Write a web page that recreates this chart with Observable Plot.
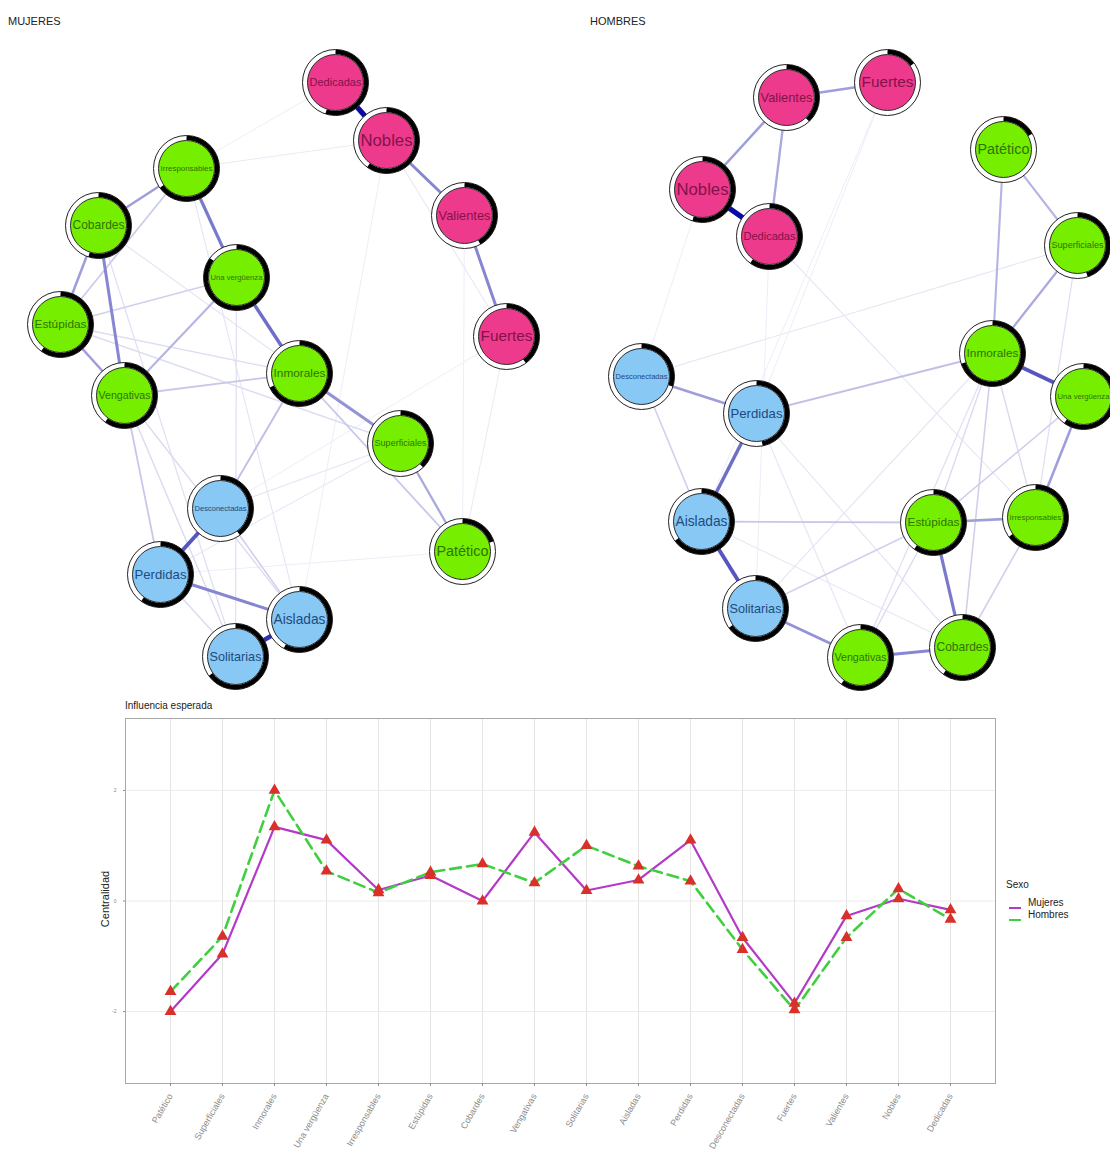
<!DOCTYPE html>
<html><head><meta charset="utf-8">
<script src="https://cdn.jsdelivr.net/npm/d3@7"></script>
<script src="https://cdn.jsdelivr.net/npm/@observablehq/plot@0.6"></script>
<style>
body{margin:0;background:#fff;font-family:"Liberation Sans",Arial,sans-serif;}
#wrap{position:relative;width:1110px;height:1157px;overflow:hidden;background:#fff;}
.abs{position:absolute;}
</style></head><body><div id="wrap"></div>
<script>
// ---------- DATA ----------
const categories = ["Patético","Superficiales","Inmorales","Una vergüenza","Irresponsables","Estúpidas","Cobardes","Vengativas","Solitarias","Aisladas","Perdidas","Desconectadas","Fuertes","Valientes","Nobles","Dedicadas"];
const nodeGroup = ["g","g","g","g","g","g","g","g","b","b","b","b","p","p","p","p"];

const centralidadMujeres = [-2.0,-0.96,1.34,1.10,0.20,0.46,0.0,1.24,0.19,0.38,1.10,-0.66,-1.85,-0.27,0.04,-0.16];
const centralidadHombres = [-1.64,-0.64,2.0,0.54,0.15,0.52,0.67,0.33,1.0,0.63,0.36,-0.88,-1.97,-0.66,0.22,-0.33];
const yTicks = [-2,0,2];
const sexos = ["Mujeres","Hombres"];

// network layouts (layout space of each panel)
const mujeresX = [462,400,299,236,186,60,98,124,235,299,160,220,506,464,386,335];
const mujeresY = [551,443,373,277,168,324,225,395,656,619,574,508,336,215,140,82];
const hombresX = [448,522,437,528,480,378,407,305,200,146,201,86,332,231,147,214];
const hombresY = [149,245,353,396,517,522,647,657,608,521,413,376,82,97,189,236];

// predictability (pie)
const mujeresPie = [0.2,0.38,0.68,0.85,0.65,0.6,0.55,0.6,0.65,0.58,0.6,0.4,0.4,0.42,0.6,0.55];
const hombresPie = [0.17,0.45,0.7,0.6,0.65,0.6,0.6,0.6,0.65,0.65,0.47,0.3,0.15,0.38,0.55,0.6];

const mujeresEdges = [
 ["Dedicadas","Nobles",1.0],["Aisladas","Solitarias",0.85],["Desconectadas","Perdidas",0.7],
 ["Una vergüenza","Inmorales",0.6],["Irresponsables","Una vergüenza",0.55],["Nobles","Valientes",0.5],
 ["Valientes","Fuertes",0.5],["Perdidas","Aisladas",0.5],["Cobardes","Vengativas",0.5],
 ["Inmorales","Superficiales",0.45],["Cobardes","Irresponsables",0.4],["Cobardes","Estúpidas",0.4],
 ["Estúpidas","Vengativas",0.4],["Superficiales","Patético",0.35],["Vengativas","Una vergüenza",0.3],
 ["Inmorales","Desconectadas",0.25],["Vengativas","Inmorales",0.22],["Irresponsables","Estúpidas",0.2],
 ["Vengativas","Perdidas",0.22],["Estúpidas","Una vergüenza",0.18],["Estúpidas","Superficiales",0.12],
 ["Inmorales","Patético",0.22],["Vengativas","Solitarias",0.13],["Vengativas","Aisladas",0.13],
 ["Desconectadas","Aisladas",0.18],["Perdidas","Solitarias",0.13],["Cobardes","Solitarias",0.1],
 ["Irresponsables","Nobles",0.05],["Irresponsables","Dedicadas",0.04],["Nobles","Fuertes",0.06],
 ["Nobles","Aisladas",0.04],["Fuertes","Patético",0.05],["Fuertes","Desconectadas",0.04],
 ["Una vergüenza","Solitarias",0.1],["Irresponsables","Aisladas",0.08],["Estúpidas","Inmorales",0.12],
 ["Cobardes","Superficiales",0.08],["Superficiales","Desconectadas",0.07],["Superficiales","Perdidas",0.06],
 ["Patético","Perdidas",0.04],["Valientes","Patético",0.04]
];
const hombresEdges = [
 ["Nobles","Dedicadas",1.0],["Solitarias","Aisladas",0.7],["Inmorales","Una vergüenza",0.7],
 ["Perdidas","Aisladas",0.6],["Estúpidas","Cobardes",0.55],["Cobardes","Vengativas",0.5],
 ["Vengativas","Solitarias",0.45],["Valientes","Nobles",0.4],["Valientes","Fuertes",0.4],
 ["Valientes","Dedicadas",0.35],["Perdidas","Desconectadas",0.4],["Una vergüenza","Irresponsables",0.4],
 ["Estúpidas","Irresponsables",0.4],["Patético","Superficiales",0.3],["Patético","Inmorales",0.3],
 ["Superficiales","Inmorales",0.35],["Perdidas","Inmorales",0.25],["Aisladas","Estúpidas",0.22],
 ["Desconectadas","Aisladas",0.18],["Solitarias","Estúpidas",0.18],["Irresponsables","Cobardes",0.18],
 ["Inmorales","Cobardes",0.18],["Inmorales","Estúpidas",0.13],["Inmorales","Irresponsables",0.13],
 ["Una vergüenza","Estúpidas",0.18],["Vengativas","Estúpidas",0.13],["Vengativas","Inmorales",0.1],
 ["Superficiales","Irresponsables",0.1],["Superficiales","Desconectadas",0.07],["Dedicadas","Irresponsables",0.08],
 ["Fuertes","Aisladas",0.04],["Fuertes","Perdidas",0.04],["Nobles","Desconectadas",0.04],
 ["Dedicadas","Solitarias",0.04],["Perdidas","Vengativas",0.08],["Solitarias","Inmorales",0.08],
 ["Aisladas","Cobardes",0.06],["Perdidas","Cobardes",0.08]
];

const groupFill = {g:"#76EE00", b:"#87C8F5", p:"#EE3A8C"};
const groupText = {g:"#2f7400", b:"#1f4a80", p:"#84124a"};

// ---------- HELPERS ----------
const wrap = document.getElementById("wrap");
function place(el, left, top){ el.classList.add("abs"); el.style.left=left+"px"; el.style.top=top+"px"; wrap.appendChild(el); return el; }
function textDiv(txt, left, top, size, color, extra){ const d=document.createElement("div"); d.textContent=txt; d.style.fontSize=size+"px"; d.style.color=color||"#222"; d.style.whiteSpace="nowrap"; if(extra) Object.assign(d.style, extra); return place(d,left,top); }

const cv = document.createElement("canvas").getContext("2d");
cv.font = '16px "Liberation Sans", Arial, sans-serif';
function fitSize(s){ const w = cv.measureText(s).width; return Math.min(17, 16*52/w); }

const NODE_R = 33, ARC_R = 30.5, INNER_R = 28;

function network(xs, ys, pies, edges, W, H){
  const nodes = categories.map((n,i)=>({name:n, x:xs[i], y:ys[i], pie:pies[i], g:nodeGroup[i], fs:fitSize(n)}));
  const byName = new Map(nodes.map(d=>[d.name,d]));
  const links = edges.map(([a,b,w])=>({x1:byName.get(a).x,y1:byName.get(a).y,x2:byName.get(b).x,y2:byName.get(b).y,w})).sort((p,q)=>p.w-q.w);
  const col = d3.interpolateRgb("#f3f3fa","#0a0aa4");
  const arcs = nodes.flatMap(d=>{ const n=Math.max(2,Math.ceil(d.pie*90)); return d3.range(n+1).map(k=>{ const t=2*Math.PI*d.pie*k/n; return {name:d.name, x:d.x+ARC_R*Math.sin(t), y:d.y-ARC_R*Math.cos(t)}; }); });
  return Plot.plot({
    width:W, height:H, margin:0,
    x:{domain:[0,W], range:[0,W], axis:null},
    y:{domain:[0,H], range:[0,H], axis:null},
    style:{background:"transparent", fontFamily:'"Liberation Sans", Arial, sans-serif'},
    marks:[
      Plot.link(links,{x1:"x1",y1:"y1",x2:"x2",y2:"y2", stroke:d=>col(Math.pow(d.w,1.1)), strokeWidth:d=>0.8+4.4*d.w, strokeOpacity:1}),
      Plot.dot(nodes,{x:"x",y:"y",r:NODE_R, fill:"#fff", stroke:"#222", strokeWidth:1}),
      Plot.line(arcs,{x:"x",y:"y",z:"name", stroke:"#000", strokeWidth:4.6, curve:"linear", strokeLinecap:"butt"}),
      Plot.dot(nodes,{x:"x",y:"y",r:INNER_R, fill:d=>groupFill[d.g], stroke:"#2a2a2a", strokeWidth:1}),
      Plot.text(nodes,{x:"x",y:"y",text:"name", fill:d=>groupText[d.g], fontSize:"fs", textAnchor:"middle", lineAnchor:"middle"})
    ]
  });
}

// ---------- NETWORKS ----------
textDiv("MUJERES", 8, 15, 11, "#222");
textDiv("HOMBRES", 590, 15, 11, "#222");
place(network(mujeresX, mujeresY, mujeresPie, mujeresEdges, 555, 695), 0, 0);
place(network(hombresX, hombresY, hombresPie, hombresEdges, 555, 695), 555, 0);

// ---------- LINE CHART ----------
const rows = [];
categories.forEach((c,i)=>{ rows.push({cat:c, sexo:"Mujeres", v:centralidadMujeres[i]}); rows.push({cat:c, sexo:"Hombres", v:centralidadHombres[i]}); });
const colMuj = "#b23ac6", colHom = "#3fcf3f";

const chart = Plot.plot({
  width:1000, height:445, marginLeft:125, marginRight:5, marginTop:6, marginBottom:74,
  style:{background:"transparent", fontFamily:'"Liberation Sans", Arial, sans-serif'},
  x:{type:"point", domain:categories, padding:0.76},
  y:{domain:[-3.3,3.3]},
  marks:[
    Plot.gridX(categories,{stroke:"#e4e4e4", strokeOpacity:1}),
    Plot.gridY(yTicks,{stroke:"#ebebeb", strokeOpacity:1}),
    Plot.frame({stroke:"#a8a8a8"}),
    Plot.line(rows.filter(d=>d.sexo==="Mujeres"),{x:"cat",y:"v", stroke:colMuj, strokeWidth:2.2}),
    Plot.line(rows.filter(d=>d.sexo==="Hombres"),{x:"cat",y:"v", stroke:colHom, strokeWidth:2.6, strokeDasharray:"11,6"}),
    Plot.dot(rows,{x:"cat",y:"v", symbol:"triangle", fill:"#d8312b", r:4.4}),
    Plot.axisX({tickRotate:-60, fontSize:9, color:"#8a8a8a", tickSize:3, label:null}),
    Plot.axisY({ticks:yTicks, tickFormat:d=>String(d), fontSize:5, color:"#8a8a8a", tickSize:2, label:null})
  ]
});
place(chart, 0, 712);

textDiv("Influencia esperada", 125, 700, 10, "#222");
textDiv("Centralidad", 70, 893, 11, "#222", {transform:"rotate(-90deg)", transformOrigin:"center", width:"70px", textAlign:"center"});

// legend
textDiv("Sexo", 1006, 879, 10, "#222");
function legendRow(label, color, dash, top){
  const ns="http://www.w3.org/2000/svg";
  const s=document.createElementNS(ns,"svg"); s.setAttribute("width","18"); s.setAttribute("height","10");
  const l=document.createElementNS(ns,"line"); l.setAttribute("x1","3"); l.setAttribute("x2","15"); l.setAttribute("y1","5"); l.setAttribute("y2","5");
  l.setAttribute("stroke",color); l.setAttribute("stroke-width","2"); if(dash) l.setAttribute("stroke-dasharray",dash);
  s.appendChild(l);
  const holder=document.createElement("div"); holder.appendChild(s); place(holder, 1006, top);
  textDiv(label, 1028, top-2, 10, "#222");
}
legendRow("Mujeres", colMuj, null, 899);
legendRow("Hombres", colHom, null, 911);
</script></body></html>
